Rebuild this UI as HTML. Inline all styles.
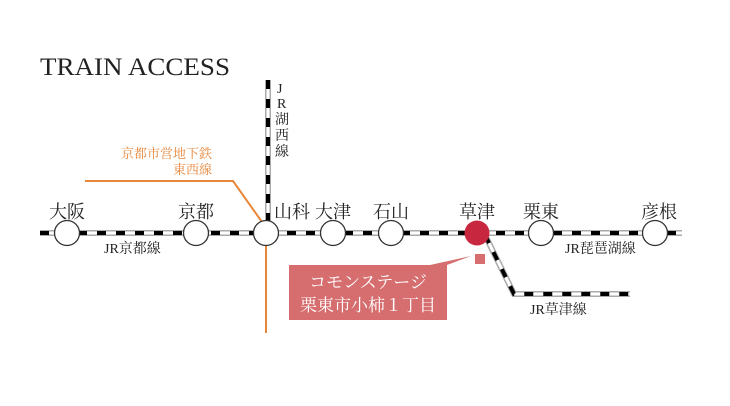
<!DOCTYPE html>
<html><head><meta charset="utf-8"><style>
html,body{margin:0;padding:0;background:#fff;width:730px;height:406px;overflow:hidden}
svg{display:block}
text{font-family:"Liberation Serif","Noto Serif CJK SC",serif}
</style></head><body>
<svg width="730" height="406" viewBox="0 0 730 406" xmlns="http://www.w3.org/2000/svg">
<text x="40" y="75" font-size="25" fill="#222" textLength="190" lengthAdjust="spacingAndGlyphs">TRAIN ACCESS</text>
<polyline points="85,181 233,181 262,222" fill="none" stroke="#e8873a" stroke-width="2"/>
<line x1="266" y1="245" x2="266" y2="333" stroke="#e8873a" stroke-width="2"/>
<text x="212" y="158" font-size="13" fill="#e8873a" text-anchor="end">京都市営地下鉄</text>
<text x="212" y="174" font-size="13" fill="#e8873a" text-anchor="end">東西線</text>
<g fill="none">
<line x1="40" y1="233" x2="682" y2="233" stroke="#aaa" stroke-width="6"/>
<line x1="40" y1="233" x2="682" y2="233" stroke="#fff" stroke-width="3"/>
<line x1="40" y1="233" x2="682" y2="233" stroke="#000" stroke-width="4" stroke-dasharray="9,10"/>
<line x1="268" y1="80" x2="268" y2="233" stroke="#aaa" stroke-width="6"/>
<line x1="268" y1="80" x2="268" y2="233" stroke="#fff" stroke-width="3"/>
<line x1="268" y1="80" x2="268" y2="233" stroke="#000" stroke-width="4" stroke-dasharray="9,10"/>
<polyline points="485,235 514,294 630,294" stroke="#aaa" stroke-width="6"/>
<polyline points="485,235 514,294 630,294" stroke="#fff" stroke-width="3"/>
<polyline points="485,235 514,294 630,294" stroke="#000" stroke-width="4" stroke-dasharray="9,10"/>
</g>
<g fill="#fff" stroke="#333" stroke-width="1.3">
<circle cx="67" cy="233" r="12.5"/><circle cx="196" cy="233" r="12.5"/><circle cx="266" cy="233" r="12.5"/>
<circle cx="333" cy="233" r="12.5"/><circle cx="391" cy="233" r="12.5"/><circle cx="541" cy="233" r="12.5"/>
<circle cx="655" cy="233" r="12.5"/>
</g>
<circle cx="477" cy="233" r="12.5" fill="#c8283f"/>
<g font-size="18" fill="#222" text-anchor="middle">
<text x="67" y="218">大阪</text><text x="196" y="218">京都</text><text x="292" y="218">山科</text>
<text x="333" y="218">大津</text><text x="391" y="218">石山</text><text x="477" y="218">草津</text>
<text x="541" y="218">栗東</text><text x="659" y="218">彦根</text>
</g>
<g font-size="14" fill="#222">
<text x="104" y="253">JR京都線</text>
<text x="565" y="253">JR琵琶湖線</text>
<text x="530" y="314">JR草津線</text>
<text x="277" y="93">J</text><text x="277" y="108">R</text><text x="275" y="124">湖</text><text x="275" y="140">西</text><text x="275" y="156">線</text>
</g>
<polygon points="430,265 447,265 471,256" fill="#d66e70"/>
<rect x="475" y="254" width="10" height="10" fill="#d66e70"/>
<rect x="289" y="265" width="158" height="55" fill="#d66e70"/>
<g font-size="17" fill="#fff" text-anchor="middle">
<text x="368" y="288">コモンステージ</text>
<text x="368" y="311">栗東市小柿１丁目</text>
</g>
</svg>
</body></html>
